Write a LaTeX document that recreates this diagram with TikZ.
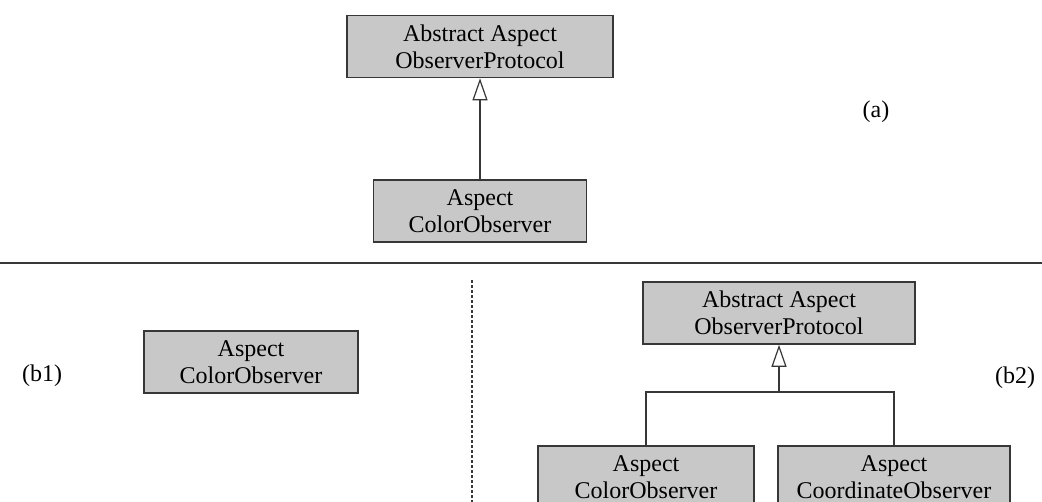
\documentclass[tikz,border=0pt]{standalone}
\usepackage{fontspec}
\setmainfont{Liberation Serif}
\usetikzlibrary{arrows.meta}
\definecolor{boxgray}{RGB}{200,200,200}
\definecolor{linegray}{RGB}{55,55,55}
\tikzset{
  classbox/.style={draw=linegray, line width=0.8pt, fill=boxgray, align=center,
    inner sep=0pt, minimum height=31pt, font=\fontsize{12}{13.5}\selectfont},
  inherits/.style={draw=linegray, line width=0.6pt,
    -{Triangle[open, length=11pt, width=7.5pt, fill=white]}},
  caselabel/.style={font=\fontsize{12}{14}\selectfont}
}

\begin{document}
\begin{tikzpicture}[x=0.5pt, y=-0.5pt]
\useasboundingbox (0,0) rectangle (1042,502);

% Part (a): one observer under the protocol
  \node[classbox, minimum width=133pt] (protoA) at (480,46.5) {Abstract Aspect\\ObserverProtocol};
  \node[classbox, minimum width=106.5pt] (colorA) at (480,211) {Aspect\\ColorObserver};
  \node[caselabel] (labA) at (876,112) {(a)};
  \draw[inherits] (colorA) -- (protoA);

% Separators
  \coordinate (ruleL) at (0,263);
  \coordinate (ruleR) at (1042,263);
  \draw[linegray, line width=1pt] (ruleL) -- (ruleR);
  \coordinate (splitT) at (472,280);
  \coordinate (splitB) at (472,502);
  \draw[linegray, line width=0.6pt, dash pattern=on 1.5pt off 1pt] (splitT) -- (splitB);

% Part (b1)
  \node[classbox, minimum width=107pt] (colorB) at (251,362) {Aspect\\ColorObserver};
  \node[caselabel] (labB1) at (42,376) {(b1)};

% Part (b2): two observers share the protocol
  \node[classbox, minimum width=136pt] (protoB) at (779,313) {Abstract Aspect\\ObserverProtocol};
  \node[classbox, minimum width=108pt] (colorC) at (646,477) {Aspect\\ColorObserver};
  \node[classbox, minimum width=116pt] (coordC) at (894,477) {Aspect\\CoordinateObserver};
  \node[caselabel] (labB2) at (1015,378) {(b2)};

  \coordinate (joint) at (779,392);
  \draw[linegray, line width=0.6pt] (colorC.north) |- (joint) -| (coordC.north);
  \draw[inherits] (joint) -- (protoB);

\end{tikzpicture}
\end{document}
